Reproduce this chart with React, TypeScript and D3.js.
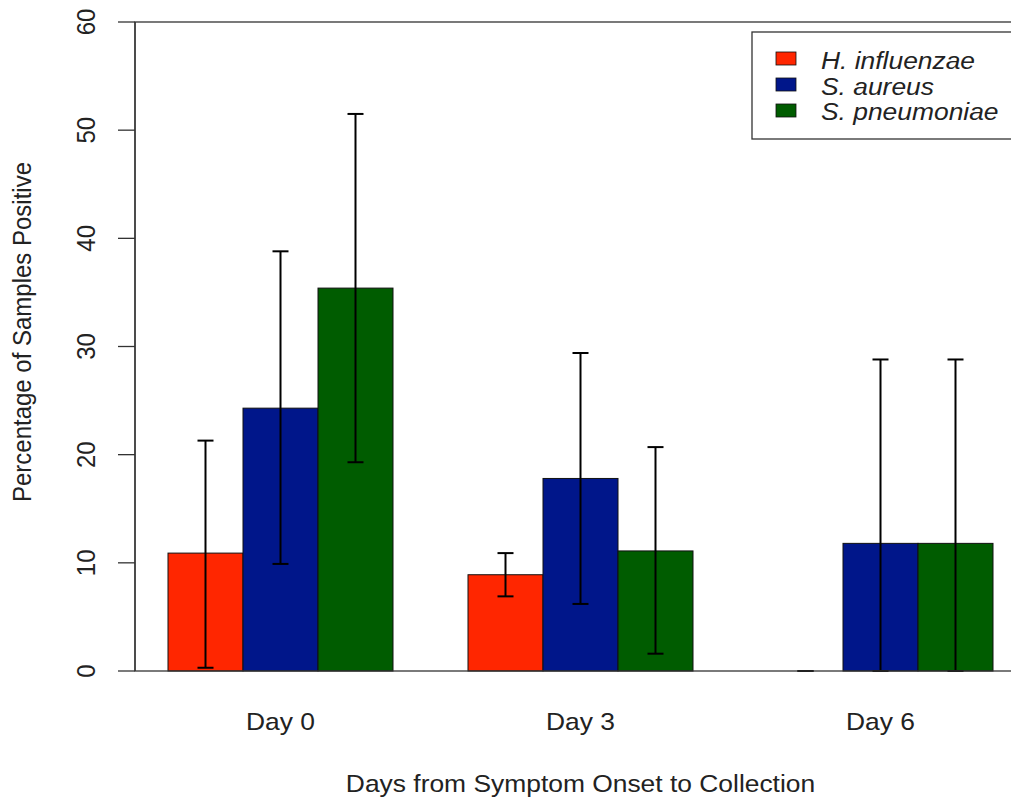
import React from "react";
import * as d3 from "d3";

const days = ["Day 0", "Day 3", "Day 6"];
const species = ["H. influenzae", "S. aureus", "S. pneumoniae"];
const colors = ["#FF2600", "#00168A", "#005C00"];
// percent values per day, per species
const hInfluenzae = [10.9, 8.9, 0];
const sAureus = [24.3, 17.8, 11.8];
const sPneumoniae = [35.4, 11.1, 11.8];
const lowerCI = [
  [0.3, 6.9, 0],
  [9.9, 6.2, 0],
  [19.3, 1.6, 0],
];
const upperCI = [
  [21.3, 10.9, 0],
  [38.8, 29.4, 28.8],
  [51.5, 20.7, 28.8],
];
const yTicks = [0, 10, 20, 30, 40, 50, 60];
const yTitle = "Percentage of Samples Positive";
const xTitle = "Days from Symptom Onset to Collection";

const W = 1011;
const H = 799;
const SX = 1.1; // horizontal text stretch of the reference
const FONT = "'Liberation Sans', Arial, Helvetica, sans-serif";

export default function App() {
  const values = [hInfluenzae, sAureus, sPneumoniae];
  // bar units as in R barplot: bar width 1, space 1 between groups
  const x = d3.scaleLinear().domain([0.56, 12.44]).range([135, 1026]);
  const y = d3.scaleLinear().domain([0, 60]).range([671, 22]);
  const unit = x(1) - x(0);

  const bars: any[] = [];
  days.forEach((_, g) => {
    species.forEach((_, s) => {
      const left = 1 + g * 4 + s;
      bars.push({ g, s, left, v: values[s][g], lo: lowerCI[s][g], hi: upperCI[s][g] });
    });
  });

  const axisColor = "#333";
  return (
    <svg width={W} height={H} style={{ position: "absolute", left: 0, top: 0, background: "#fff" }} fontFamily={FONT}>
      <rect x={0} y={0} width={W} height={H} fill="#fff" />
      {/* bars */}
      {bars.map((b, i) => (
        <rect
          key={"b" + i}
          x={x(b.left)}
          y={y(b.v)}
          width={unit}
          height={Math.max(0, y(0) - y(b.v))}
          fill={colors[b.s]}
          stroke="#111"
          strokeWidth={1}
        />
      ))}
      {/* error bars */}
      {bars.map((b, i) => {
        const cx = x(b.left + 0.5);
        return (
          <g key={"e" + i} stroke="#000" strokeWidth={2}>
            <line x1={cx} x2={cx} y1={y(b.lo)} y2={y(b.hi)} />
            <line x1={cx - 8} x2={cx + 8} y1={y(b.hi)} y2={y(b.hi)} />
            <line x1={cx - 8} x2={cx + 8} y1={y(b.lo)} y2={y(b.lo)} />
          </g>
        );
      })}
      {/* plot box */}
      <rect x={x(0.56)} y={y(60)} width={x(12.44) - x(0.56)} height={y(0) - y(60)} fill="none" stroke={axisColor} strokeWidth={1.3} />
      {/* y axis */}
      <line x1={x(0.56)} x2={x(0.56)} y1={y(0)} y2={y(60)} stroke={axisColor} strokeWidth={1.3} />
      {yTicks.map((t) => (
        <g key={"t" + t}>
          <line x1={118} x2={x(0.56)} y1={y(t)} y2={y(t)} stroke={axisColor} strokeWidth={1.3} />
          <text
            transform={`translate(95,${y(t)}) scale(${SX},1) rotate(-90)`}
            textAnchor="middle"
            fontSize={24}
            fill="#222"
          >
            {t}
          </text>
        </g>
      ))}
      {/* day labels */}
      {days.map((d, g) => (
        <text
          key={d}
          transform={`translate(${x(1 + g * 4 + 1.5)},730) scale(${SX},1)`}
          textAnchor="middle"
          fontSize={24}
          fill="#222"
        >
          {d}
        </text>
      ))}
      {/* axis titles */}
      <text transform={`translate(${(x(0.56) + x(12.44)) / 2},792) scale(${SX},1)`} textAnchor="middle" fontSize={24} fill="#222">
        {xTitle}
      </text>
      <text transform={`translate(31,332) scale(${SX},1) rotate(-90)`} textAnchor="middle" fontSize={24} fill="#222">
        {yTitle}
      </text>
      {/* legend */}
      <rect x={752} y={32} width={300} height={107} fill="#fff" stroke={axisColor} strokeWidth={1.3} />
      {species.map((s, i) => (
        <g key={s}>
          <rect x={776} y={52 + i * 26} width={20} height={13} fill={colors[i]} stroke="#111" strokeWidth={0.8} />
          <text
            transform={`translate(821,${69 + i * 25.7}) scale(${SX},1)`}
            fontSize={24}
            fontStyle="italic"
            fill="#222"
          >
            {s}
          </text>
        </g>
      ))}
    </svg>
  );
}
